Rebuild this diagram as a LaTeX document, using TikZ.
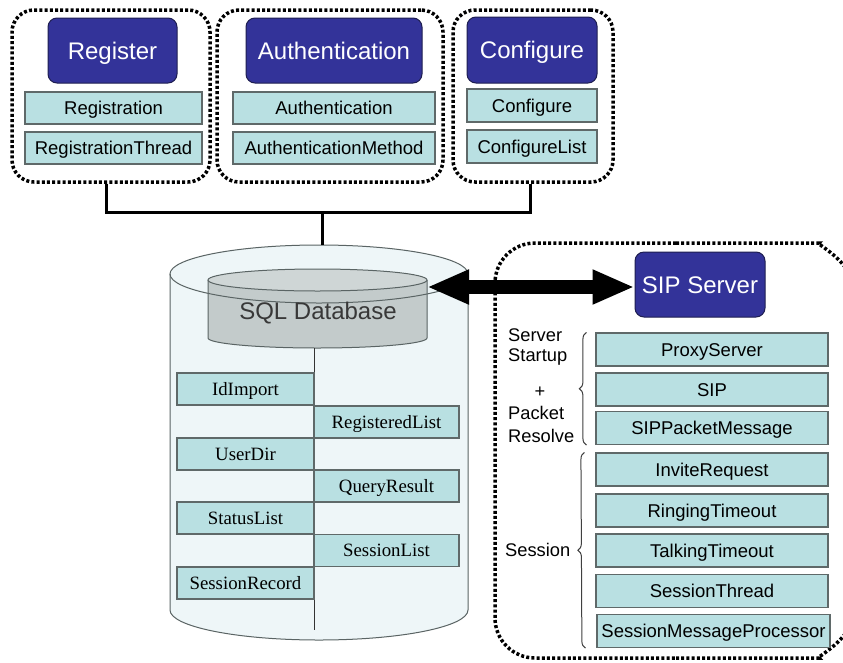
\documentclass[tikz,border=0pt]{standalone}
\usepackage{fontspec}
\setmainfont{Liberation Sans}
\newfontfamily\clsserif{Liberation Serif}
\usetikzlibrary{arrows.meta,decorations.pathreplacing}
\definecolor{titleblue}{RGB}{51,51,153}
\definecolor{titleedge}{RGB}{30,30,80}
\definecolor{clsfill}{RGB}{185,224,226}
\definecolor{clsedge}{RGB}{95,105,105}
\definecolor{drumfill}{RGB}{238,246,248}
\definecolor{drumedge}{RGB}{90,100,100}
\definecolor{corefill}{RGB}{195,203,203}
\definecolor{coretop}{RGB}{207,214,214}
\tikzset{
  grp/.style={draw=black, line width=3.5pt, dash pattern=on 3pt off 2.2pt, rounded corners=22pt},
  titlebox/.style={draw=titleedge, line width=1pt, fill=titleblue, rounded corners=9pt, text=white,
    font=\fontsize{24}{28}\selectfont, inner sep=0pt, text height=17pt, text depth=0pt},
  clsbox/.style={draw=clsedge, line width=1.2pt, fill=clsfill, inner sep=0pt,
    font=\fontsize{18.5}{20}\selectfont, minimum height=32pt, text height=13.3pt, text depth=0pt},
  dbbox/.style={draw=clsedge, line width=1.2pt, fill=clsfill, inner sep=0pt,
    font=\clsserif\fontsize{18.8}{20}\selectfont, minimum height=32pt, text height=12.5pt, text depth=0pt},
  bus/.style={line width=3pt, black},
  bigarrow/.style={line width=14pt, {Triangle[length=42pt,width=32pt]}-{Triangle[length=42pt,width=32pt]}},
  lbl/.style={font=\fontsize{18.3}{20}\selectfont, inner sep=0pt},
  bracket/.style={decorate, decoration={brace, amplitude=7pt}, line width=1pt, draw=black!75},
}
\begin{document}
\begin{tikzpicture}[x=1pt, y=-1pt]
\useasboundingbox (0,0) rectangle (843,662);
\clip (0,0) rectangle (843,662);
\fill[white] (0,0) rectangle (843,662);

% ---- client-side modules ----
\node[grp, minimum width=198pt, minimum height=172pt] (g1) at (111,96) {};
\node[grp, minimum width=226pt, minimum height=172pt] (g2) at (330,96) {};
\node[grp, minimum width=160pt, minimum height=172pt] (g3) at (533,96) {};

\node[titlebox, minimum width=129pt, minimum height=65pt] (reg) at (112.5,50.5) {Register};
\node[clsbox, minimum width=177pt] (regc) at (113.5,108) {Registration};
\node[clsbox, minimum width=177pt] (regt) at (113.5,148) {RegistrationThread};

\node[titlebox, minimum width=176pt, minimum height=65pt] (auth) at (334,50.5) {Authentication};
\node[clsbox, minimum width=202pt] (authc) at (334,108) {Authentication};
\node[clsbox, minimum width=202pt] (authm) at (334,148) {AuthenticationMethod};

\node[titlebox, minimum width=130pt, minimum height=66pt] (conf) at (532,50) {Configure};
\node[clsbox, minimum width=130pt, minimum height=33pt] (confc) at (532,105.5) {Configure};
\node[clsbox, minimum width=130pt, minimum height=33pt] (confl) at (532,146.5) {ConfigureList};

% ---- database drum ----
\fill[drumfill] (170,274) -- (170,610) arc[start angle=180, end angle=0, x radius=149, y radius=30]
  -- (468,274) arc[start angle=0, end angle=-180, x radius=149, y radius=29] -- cycle;
\draw[drumedge, line width=1pt] (170,274) -- (170,610) arc[start angle=180, end angle=0, x radius=149, y radius=30] -- (468,274);
\coordinate (drumtop) at (322,245);

% inner store
\fill[corefill] (208,280) -- (208,338) arc[start angle=180, end angle=0, x radius=109.5, y radius=10] -- (427,280) -- cycle;
\draw[drumedge, line width=1pt] (208,280) -- (208,338) arc[start angle=180, end angle=0, x radius=109.5, y radius=10] -- (427,280);
\draw[drumedge, line width=1pt, fill=coretop] (317.5,280) ellipse[x radius=109.5, y radius=11];
\draw[drumedge, line width=1pt] (319,274) ellipse[x radius=149, y radius=29];
\node[font=\fontsize{24}{28}\selectfont, text=black!78, inner sep=0pt] (sql) at (318,313) {SQL Database};
\coordinate (dbright) at (427,287);
\coordinate (splittop) at (314,348);
\coordinate (splitbot) at (314,630);
\draw[black!80, line width=1pt] (splittop) -- (splitbot);

\node[dbbox, minimum width=137pt] (idi) at (245.5,389) {IdImport};
\node[dbbox, minimum width=145pt] (rgl) at (386.5,422) {RegisteredList};
\node[dbbox, minimum width=137pt] (usd) at (245.5,454) {UserDir};
\node[dbbox, minimum width=145pt] (qry) at (386.5,486) {QueryResult};
\node[dbbox, minimum width=137pt] (stl) at (245.5,518) {StatusList};
\node[dbbox, minimum width=145pt] (ssl) at (386.5,550.5) {SessionList};
\node[dbbox, minimum width=137pt] (ssr) at (245.5,583) {SessionRecord};

% ---- bus from modules to database ----
\coordinate (join) at (322,212);
\draw[bus] ([xshift=-5pt]g1.south) |- (join) -| ([xshift=-3pt]g3.south);
\draw[bus] (join) -- (drumtop);

% ---- SIP server side: frame whose right side leaves the page ----
\draw[grp] (676,243) -- (797,243) arc[start angle=270, end angle=322, radius=60];
\draw[grp] (676,658) -- (797,658) arc[start angle=90, end angle=38, radius=60];
\draw[grp, rounded corners=40pt] (676,243) -- (495,243) -- (495,658) -- (676,658);
\node[titlebox, minimum width=130pt, minimum height=65pt] (sip) at (700,284.5) {SIP Server};
\draw[bigarrow] (dbright) -- (dbright -| sip.west);

\node[clsbox, minimum width=232pt, minimum height=33pt] (prx) at (712,349.5) {ProxyServer};
\node[clsbox, minimum width=232pt, minimum height=33pt] (sipc) at (712,389.5) {SIP};
\node[clsbox, minimum width=232pt, minimum height=33pt] (spm) at (712,428) {SIPPacketMessage};
\node[clsbox, minimum width=232pt, minimum height=33pt] (inv) at (712,469.5) {InviteRequest};
\node[clsbox, minimum width=232pt, minimum height=33pt] (rng) at (712,510.5) {RingingTimeout};
\node[clsbox, minimum width=232pt, minimum height=33pt] (tlk) at (712,550.5) {TalkingTimeout};
\node[clsbox, minimum width=232pt, minimum height=33pt] (sth) at (712,591) {SessionThread};
\node[clsbox, minimum width=233pt, minimum height=33pt] (smp) at (713.5,631) {SessionMessageProcessor};

\draw[bracket] ([xshift=-9pt]spm.south west) -- ([xshift=-9pt]prx.north west);
\draw[bracket] ([xshift=-11pt]smp.south west) -- ([xshift=-11pt]inv.north west);

\node[lbl, anchor=west] (srv) at (508,335) {Server};
\node[lbl, anchor=west] (stu) at (508,357) {Startup};
\node[lbl] (plus) at (540,392) {+};
\node[lbl, anchor=west] (pkt) at (508,413) {Packet};
\node[lbl, anchor=west] (rsv) at (508,435.5) {Resolve};
\node[lbl, anchor=west] (ses) at (505,549.5) {Session};
\end{tikzpicture}
\end{document}
